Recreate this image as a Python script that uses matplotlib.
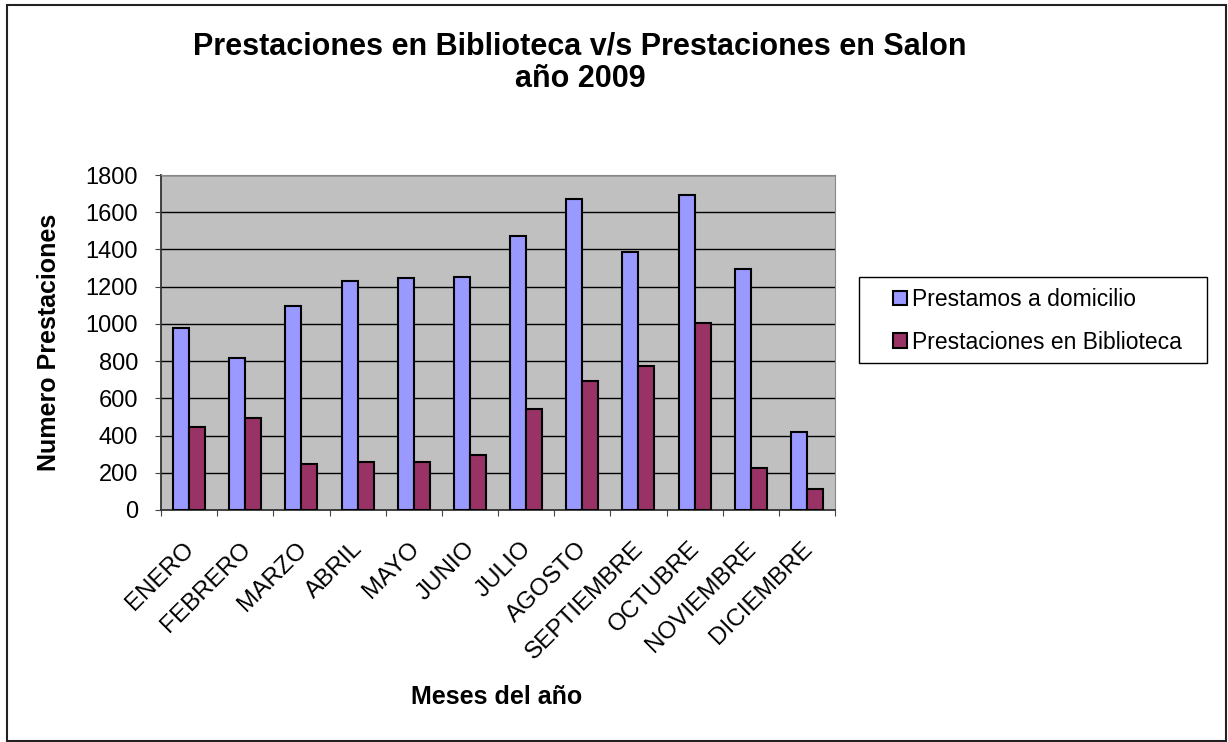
import matplotlib
matplotlib.use("Agg")
import matplotlib.pyplot as plt
import matplotlib.transforms as mtransforms
import numpy as np
from matplotlib.patches import Rectangle

plt.rcParams['font.family'] = ['Liberation Sans', 'DejaVu Sans']

# datos
meses = ['ENERO', 'FEBRERO', 'MARZO', 'ABRIL', 'MAYO', 'JUNIO', 'JULIO',
         'AGOSTO', 'SEPTIEMBRE', 'OCTUBRE', 'NOVIEMBRE', 'DICIEMBRE']
domicilio = [978, 815, 1098, 1232, 1248, 1252, 1472, 1669, 1384, 1692, 1297, 417]
biblioteca = [446, 496, 249, 256, 260, 296, 541, 691, 772, 1007, 227, 115]
yticks = [0, 200, 400, 600, 800, 1000, 1200, 1400, 1600, 1800]

W, H = 1228, 742
fig = plt.figure(figsize=(W / 100, H / 100), dpi=100)
fig.patch.set_facecolor('white')

# marco exterior del grafico
fig.patches.append(Rectangle((7 / W, 1 - 741 / H), (1226 - 7) / W, (741 - 5) / H,
                             transform=fig.transFigure, fill=False,
                             edgecolor='#222222', linewidth=1.5))

ax = fig.add_axes([161 / W, 1 - 510 / H, (835 - 161) / W, (510 - 175) / H])
ax.set_facecolor('#C0C0C0')

x = np.arange(len(meses))
w = 1 / 3.5
ax.bar(x - w / 2, domicilio, w, color='#9999FF', edgecolor='black', linewidth=1.5,
       label='Prestamos a domicilio', zorder=3)
ax.bar(x + w / 2, biblioteca, w, color='#993366', edgecolor='black', linewidth=1.5,
       label='Prestaciones en Biblioteca', zorder=3)

ax.set_xlim(-0.5, len(meses) - 0.5)
ax.set_ylim(0, 1800)
ax.set_yticks(yticks)
ax.set_yticklabels([str(v) for v in yticks], fontsize=17)
ax.yaxis.grid(True, color='black', linewidth=1, zorder=1)
ax.set_axisbelow(True)

# marcas del eje x entre categorias
ax.set_xticks(np.arange(len(meses) + 1) - 0.5)
ax.set_xticklabels([])
ax.set_xticks(x, minor=True)
ax.set_xticklabels(meses, minor=True, rotation=45, ha='right', va='top',
                   rotation_mode='anchor', fontsize=17.5)
ax.tick_params(axis='x', which='minor', length=0, pad=20)
ax.tick_params(axis='x', which='major', length=4.5, color='#444444')
ax.tick_params(axis='y', length=4.5, color='#444444', pad=12)

# correr un poco las etiquetas de los meses hacia la izquierda
desplaza = mtransforms.ScaledTranslation(-6 / 100, 0, fig.dpi_scale_trans)
for lab in ax.get_xticklabels(minor=True):
    lab.set_transform(lab.get_transform() + desplaza)

for s in ['top', 'right']:
    ax.spines[s].set_color('#888888')
for s in ['left', 'bottom']:
    ax.spines[s].set_color('#333333')
    ax.spines[s].set_linewidth(1.3)

fig.text(580 / W, 1 - 63 / H, 'Prestaciones en Biblioteca v/s Prestaciones en Salon\naño 2009',
         ha='center', va='center', fontsize=22, fontweight='bold', linespacing=1.1)
fig.text(49 / W, 1 - 342 / H, 'Numero Prestaciones', rotation=90, ha='center', va='center',
         fontsize=18, fontweight='bold')
fig.text(497 / W, 1 - 697 / H, 'Meses del año', ha='center', va='center',
         fontsize=18, fontweight='bold')

# leyenda con marco propio
fig.patches.append(Rectangle((859 / W, 1 - 363 / H), (1207 - 859) / W, (363 - 277) / H,
                             transform=fig.transFigure, fill=False,
                             edgecolor='black', linewidth=1))
leg = fig.legend(loc='center left', bbox_to_anchor=(893 / W, 1 - 321 / H), fontsize=16.5,
                 frameon=False, borderpad=0, borderaxespad=0,
                 handlelength=0.6, handleheight=0.6, handletextpad=0.25, labelspacing=0.85)

fig.savefig('out.png', dpi=100)
